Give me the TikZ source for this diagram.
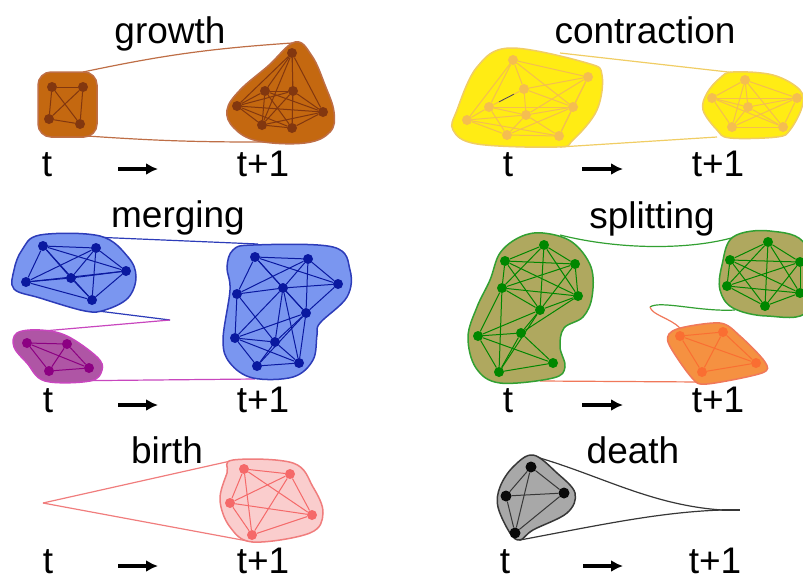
\documentclass[tikz,border=0pt]{standalone}
\usepackage{fontspec}
\setmainfont{Liberation Sans}
\usetikzlibrary{arrows.meta}
\definecolor{growthfill}{RGB}{196,104,16}
\definecolor{growthdark}{RGB}{130,55,15}
\definecolor{growthline}{RGB}{190,110,70}
\definecolor{contrfill}{RGB}{255,236,20}
\definecolor{contrdark}{RGB}{245,190,80}
\definecolor{contrline}{RGB}{240,205,100}
\definecolor{mergefill}{RGB}{122,150,240}
\definecolor{mergedark}{RGB}{10,25,160}
\definecolor{mergeline}{RGB}{45,60,185}
\definecolor{purplefill}{RGB}{175,85,165}
\definecolor{purpledark}{RGB}{140,0,130}
\definecolor{purpleline}{RGB}{200,70,190}
\definecolor{splitfill}{RGB}{175,168,95}
\definecolor{splitdark}{RGB}{0,135,0}
\definecolor{splitline}{RGB}{50,160,50}
\definecolor{orangefill}{RGB}{245,145,65}
\definecolor{orangedark}{RGB}{250,110,50}
\definecolor{orangeline}{RGB}{240,120,90}
\definecolor{birthfill}{RGB}{250,205,205}
\definecolor{birthdark}{RGB}{245,105,105}
\definecolor{birthline}{RGB}{240,125,125}
\definecolor{deathfill}{RGB}{168,168,168}
\definecolor{deathdark}{RGB}{10,10,10}
\definecolor{deathline}{RGB}{55,55,55}

\begin{document}
\begin{tikzpicture}[x=1pt, y=-1pt,
    lbl/.style={font=\fontsize{37}{40}\selectfont, inner sep=0pt, anchor=base},
    vtx/.style={circle, inner sep=0pt, minimum size=10pt},
    blob/.style={line width=1.5pt},
    edgeline/.style={line width=1pt},
    tube/.style={line width=1.2pt},
    timearrow/.style={line width=4.5pt, -{Latex[length=12pt, width=12pt]}}]
    \useasboundingbox (0,0) rectangle (803,582);

    % ---------- growth ----------
    \node[lbl] (growth) at (170,43) {growth};
    \coordinate (gTa) at (83,72);  \coordinate (gTb) at (292,43);
    \coordinate (gBa) at (87,136); \coordinate (gBb) at (268,142);
    \draw[growthline, tube] (gTa) to[bend left=4] (gTb);
    \draw[growthline, tube] (gBa) to[bend right=2] (gBb);
    \draw[growthline, blob, fill=growthfill, rounded corners=13pt] (38,72) rectangle (97,137);
    \draw[growthline, blob, fill=growthfill] plot[smooth cycle, tension=0.65] coordinates
        {(295,42) (312,56) (325,85) (334,112) (330,132) (305,143) (258,141) (234,128) (227,110) (240,90) (268,66)};
    \foreach \n/\x/\y in {ga1/52/87, ga2/83/87, ga3/49/119, ga4/80/124,
        gb1/292/53, gb2/265/91, gb3/293/91, gb4/237/106, gb5/323/112, gb6/262/125, gb7/292/128} {
        \node[vtx, fill=growthdark] (\n) at (\x,\y) {};
    }
    \foreach \i in {1,...,4}{\foreach \j in {1,...,4}{\ifnum\i<\j \draw[growthdark, edgeline] (ga\i) -- (ga\j);\fi}}
    \foreach \i in {1,...,7}{\foreach \j in {1,...,7}{\ifnum\i<\j \draw[growthdark, edgeline] (gb\i) -- (gb\j);\fi}}
    \node[lbl] (gt) at (47,176) {t};
    \node[lbl] (gtt) at (263,176) {t+1};
    \coordinate (gAa) at (118,169); \coordinate (gAb) at (158,169);
    \draw[timearrow] (gAa) -- (gAb);

    % ---------- contraction ----------
    \node[lbl] (contraction) at (645,43) {contraction};
    \coordinate (cTa) at (560,53);  \coordinate (cTb) at (737,73);
    \coordinate (cBa) at (560,147); \coordinate (cBb) at (717,137);
    \draw[contrline, tube] (cTa) -- (cTb);
    \draw[contrline, tube] (cBa) -- (cBb);
    \draw[contrline, blob, fill=contrfill] plot[smooth cycle, tension=0.6] coordinates
        {(510,48) (587,63) (602,75) (597,110) (573,140) (557,147) (477,144) (453,130) (457,110) (477,67)};
    \draw[contrline, blob, fill=contrfill] plot[smooth cycle, tension=0.6] coordinates
        {(733,72) (773,75) (800,90) (802,107) (790,130) (777,137) (730,138) (717,130) (703,110) (707,93) (720,78)};
    \foreach \n/\x/\y in {ca1/513/60, ca2/588/77, ca3/524/89, ca4/489/107, ca5/573/107,
        ca6/526/115, ca7/467/120, ca8/507/135, ca9/559/136,
        cb1/745/80, cb2/712/98, cb3/797/98, cb4/748/107, cb5/732/127, cb6/783/127} {
        \node[vtx, fill=contrdark] (\n) at (\x,\y) {};
    }
    \foreach \u/\v in {1/2,1/3,1/4,1/5,1/7,2/3,2/5,2/6,2/9,3/4,3/5,3/6,4/6,4/7,4/8,4/5,
        5/6,5/9,5/8,6/7,6/8,6/9,7/8,8/9,7/9} {
        \draw[contrdark, edgeline] (ca\u) -- (ca\v);
    }
    \foreach \i in {1,...,6}{\foreach \j in {1,...,6}{\ifnum\i<\j \draw[contrdark, edgeline] (cb\i) -- (cb\j);\fi}}
    \draw[black!70, line width=0.8pt, shorten <=6pt, shorten >=6pt] (ca4) -- (ca3);
    \node[lbl] (ct) at (508,176) {t};
    \node[lbl] (ctt) at (718,176) {t+1};
    \coordinate (cAa) at (582,169); \coordinate (cAb) at (623,169);
    \draw[timearrow] (cAa) -- (cAb);

    % ---------- merging ----------
    \node[lbl] (merging) at (178,227) {merging};
    \coordinate (mTa) at (45,235);  \coordinate (mTb) at (258,244);
    \coordinate (mMa) at (90,310);  \coordinate (mTip) at (170,320); \coordinate (mMb) at (43,331);
    \coordinate (mBa) at (50,381);  \coordinate (mBb) at (255,379);
    \draw[mergeline, tube] (mTa) -- (mTb);
    \draw[mergeline, tube] (mMa) -- (mTip);
    \draw[purpleline, tube] (mTip) -- (mMb);
    \draw[purpleline, tube] (mBa) -- (mBb);
    \draw[mergeline, blob, fill=mergefill] plot[smooth cycle, tension=0.6] coordinates
        {(40,235) (100,236) (128,257) (136,277) (128,298) (105,310) (85,311) (40,298) (14,289) (14,270) (22,250)};
    \draw[purpleline, blob, fill=purplefill] plot[smooth cycle, tension=0.6] coordinates
        {(17,333) (40,330) (67,336) (97,357) (102,370) (90,381) (45,381) (27,363) (14,347)};
    \draw[mergeline, blob, fill=mergefill] plot[smooth cycle, tension=0.6] coordinates
        {(253,245) (333,247) (350,270) (347,297) (320,323) (317,335) (313,360) (293,377) (253,378) (230,363) (223,340) (230,290) (227,267) (233,250)};
    \foreach \n/\x/\y in {ma1/43/246, ma2/96/248, ma3/126/271, ma4/71/278, ma5/26/282, ma6/92/300,
        mr1/255/257, mr2/308/259, mr3/338/284, mr4/237/294, mr5/283/288, mr6/306/313,
        mr7/235/338, mr8/275/342, mr9/257/366, mr10/299/363} {
        \node[vtx, fill=mergedark] (\n) at (\x,\y) {};
    }
    \foreach \n/\x/\y in {mp1/27/343, mp2/67/344, mp3/49/371, mp4/89/368} {
        \node[vtx, fill=purpledark] (\n) at (\x,\y) {};
    }
    \foreach \i in {1,...,6}{\foreach \j in {1,...,6}{\ifnum\i<\j \draw[mergedark, edgeline] (ma\i) -- (ma\j);\fi}}
    \foreach \i in {1,...,4}{\foreach \j in {1,...,4}{\ifnum\i<\j \draw[purpledark, edgeline] (mp\i) -- (mp\j);\fi}}
    \foreach \u/\v in {1/2,1/4,1/5,1/6,1/3,2/3,2/5,2/6,2/4,3/5,3/6,4/5,4/7,4/8,5/6,5/7,5/8,5/10,
        6/7,6/8,6/10,6/9,7/8,7/9,8/9,8/10,9/10,7/10} {
        \draw[mergedark, edgeline] (mr\u) -- (mr\v);
    }
    \node[lbl] (mt) at (48,412) {t};
    \node[lbl] (mtt) at (263,412) {t+1};
    \coordinate (mAa) at (118,405); \coordinate (mAb) at (158,405);
    \draw[timearrow] (mAa) -- (mAb);

    % ---------- splitting ----------
    \node[lbl] (splitting) at (652,228) {splitting};
    \coordinate (sTa) at (560,235); \coordinate (sTb) at (735,237);
    \coordinate (sMa) at (735,310); \coordinate (sTip) at (650,307); \coordinate (sMb) at (680,328);
    \coordinate (sBa) at (540,381); \coordinate (sBb) at (702,382);
    \draw[splitline, tube] (sTa) .. controls (620,250) and (690,250) .. (sTb);
    \draw[splitline, tube] (sMa) .. controls (700,312) and (660,300) .. (sTip);
    \draw[orangeline, tube] (sTip) .. controls (652,315) and (670,318) .. (sMb);
    \draw[orangeline, tube] (sBa) -- (sBb);
    \draw[splitline, blob, fill=splitfill] plot[smooth cycle, tension=0.6] coordinates
        {(543,233) (572,242) (591,267) (592,297) (583,317) (564,328) (560,347) (565,367) (553,378) (500,383) (476,368) (468,337) (477,307) (490,280) (500,253) (520,237)};
    \draw[splitline, blob, fill=splitfill] plot[smooth cycle, tension=0.6] coordinates
        {(733,237) (770,231) (806,246) (808,310) (767,316) (733,308) (720,290) (722,265)};
    \draw[orangeline, blob, fill=orangefill] plot[smooth cycle, tension=0.5] coordinates
        {(677,329) (720,323) (740,336) (765,362) (762,373) (707,384) (692,378) (668,342)};
    \foreach \n/\x/\y in {sa1/544/245, sa2/505/261, sa3/575/264, sa4/502/288, sa5/578/296,
        sa6/540/310, sa7/478/336, sa8/521/333, sa9/499/372, sa10/553/363,
        sb1/768/242, sb2/730/260, sb3/800/262, sb4/727/286, sb5/800/293, sb6/765/306} {
        \node[vtx, fill=splitdark] (\n) at (\x,\y) {};
    }
    \foreach \n/\x/\y in {so1/680/336, so2/723/332, so3/756/363, so4/702/372} {
        \node[vtx, fill=orangedark] (\n) at (\x,\y) {};
    }
    \foreach \u/\v in {1/2,1/3,1/4,1/5,1/6,2/3,2/4,2/5,2/6,3/4,3/5,3/6,4/5,4/6,4/7,4/9,
        5/6,5/8,6/7,6/8,6/9,7/8,7/9,7/10,8/9,8/10,9/10} {
        \draw[splitdark, edgeline] (sa\u) -- (sa\v);
    }
    \foreach \i in {1,...,6}{\foreach \j in {1,...,6}{\ifnum\i<\j \draw[splitdark, edgeline] (sb\i) -- (sb\j);\fi}}
    \foreach \i in {1,...,4}{\foreach \j in {1,...,4}{\ifnum\i<\j \draw[orangedark, edgeline] (so\i) -- (so\j);\fi}}
    \node[lbl] (st) at (508,412) {t};
    \node[lbl] (stt) at (718,412) {t+1};
    \coordinate (sAa) at (582,405); \coordinate (sAb) at (623,405);
    \draw[timearrow] (sAa) -- (sAb);

    % ---------- birth ----------
    \node[lbl] (birth) at (167,463) {birth};
    \coordinate (bTip) at (43,503);
    \coordinate (bTb) at (235,460); \coordinate (bBb) at (253,542);
    \draw[birthline, tube] (bTip) -- (bTb);
    \draw[birthline, tube] (bTip) -- (bBb);
    \draw[birthline, blob, fill=birthfill] plot[smooth cycle, tension=0.6] coordinates
        {(233,460) (293,463) (313,487) (323,513) (310,533) (253,542) (230,527) (220,500) (227,473)};
    \foreach \n/\x/\y in {bv1/244/469, bv2/290/474, bv3/230/503, bv4/312/515, bv5/252/535} {
        \node[vtx, fill=birthdark] (\n) at (\x,\y) {};
    }
    \foreach \i in {1,...,5}{\foreach \j in {1,...,5}{\ifnum\i<\j \draw[birthdark, edgeline] (bv\i) -- (bv\j);\fi}}
    \node[lbl] (bt) at (48,573) {t};
    \node[lbl] (btt) at (263,573) {t+1};
    \coordinate (bAa) at (118,566); \coordinate (bAb) at (158,566);
    \draw[timearrow] (bAa) -- (bAb);

    % ---------- death ----------
    \node[lbl] (death) at (633,463) {death};
    \coordinate (dTa) at (533,456); \coordinate (dBa) at (520,540);
    \coordinate (dTip) at (722,510); \coordinate (dEnd) at (740,510);
    \draw[deathline, tube] (dTa) .. controls (600,475) and (650,505) .. (dTip);
    \draw[deathline, tube] (dBa) .. controls (600,525) and (660,512) .. (dTip);
    \draw[deathline, tube] (dTip) -- (dEnd);
    \draw[deathline, blob, fill=deathfill] plot[smooth cycle, tension=0.6] coordinates
        {(533,455) (557,473) (575,493) (567,513) (533,530) (520,540) (510,533) (498,507) (500,487) (513,467)};
    \foreach \n/\x/\y in {dv1/531/467, dv2/506/496, dv3/564/493, dv4/515/533} {
        \node[vtx, fill=deathdark, minimum size=11pt] (\n) at (\x,\y) {};
    }
    \foreach \i in {1,...,4}{\foreach \j in {1,...,4}{\ifnum\i<\j \draw[deathline, edgeline] (dv\i) -- (dv\j);\fi}}
    \node[lbl] (dt) at (505,573) {t};
    \node[lbl] (dtt) at (715,573) {t+1};
    \coordinate (dAa) at (583,566); \coordinate (dAb) at (623,566);
    \draw[timearrow] (dAa) -- (dAb);
\end{tikzpicture}
\end{document}
